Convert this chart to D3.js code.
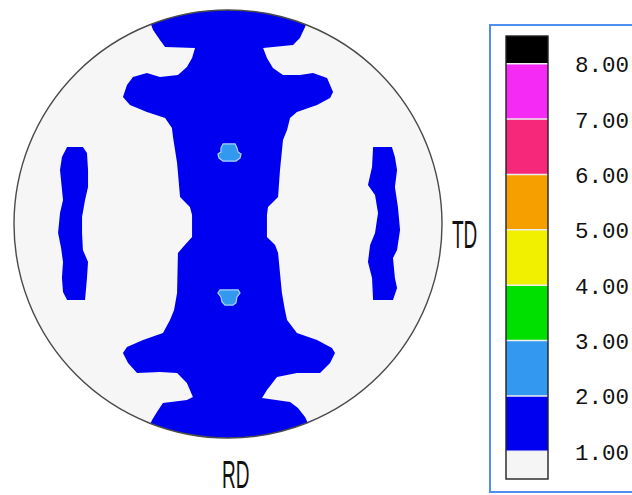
<!DOCTYPE html>
<html>
<head>
<meta charset="utf-8">
<script src="https://cdn.jsdelivr.net/npm/d3@7"></script>
<style>
  html, body { margin: 0; padding: 0; background: #ffffff; }
  svg { display: block; }
</style>
</head>
<body>
<svg id="chart" width="632" height="495"></svg>
<script>
// Pole figure contour regions, in projection units (circle radius = 100,
// x toward TD, y toward RD). Level 1 = intensity >= 1, level 2 = intensity >= 2.
const level1Central = [
  [-41.1,-104.7],[-36.4,-94.4],[-35.0,-90.7],[-31.8,-86.0],[-29.4,-82.7],[-15.4,-82.2],
  [-16.8,-77.6],[-19.2,-73.4],[-23.4,-69.6],[-31.8,-68.7],[-37.9,-70.6],[-44.4,-68.7],
  [-47.2,-65.0],[-49.1,-59.3],[-45.8,-55.6],[-37.9,-52.3],[-29.4,-49.5],[-26.2,-44.9],
  [-25.7,-40.7],[-23.8,-28.5],[-22.4,-12.6],[-17.8,-7.9],[-16.8,-4.2],[-16.8,6.1],
  [-21.0,10.7],[-23.4,13.6],[-23.8,32.2],[-25.2,40.2],[-27.1,44.9],[-30.4,50.9],
  [-39.7,54.2],[-47.2,57.5],[-49.1,60.3],[-46.7,65.0],[-42.5,69.6],[-31.8,69.2],
  [-23.8,69.6],[-19.2,74.3],[-16.4,80.8],[-19.2,82.2],[-30.4,83.6],[-33.2,87.9],
  [-35.5,91.6],[-41.1,104.7],[43.0,104.7],[36.0,90.2],[32.7,86.0],[29.0,83.2],
  [15.9,81.3],[18.2,77.6],[22.9,71.5],[32.2,69.6],[43.0,69.6],[47.7,65.0],
  [50.0,60.3],[48.6,57.9],[41.6,54.2],[32.2,50.9],[27.6,44.9],[26.6,40.2],
  [25.2,32.2],[23.4,13.6],[22.0,9.8],[18.2,6.1],[18.2,-4.2],[18.7,-7.9],
  [23.4,-12.6],[24.3,-25.2],[25.7,-39.3],[27.6,-43.9],[29.0,-49.5],[32.2,-52.3],
  [41.6,-55.6],[47.7,-58.9],[49.1,-61.7],[46.3,-68.2],[39.7,-70.6],[33.6,-69.6],
  [25.7,-69.6],[21.0,-72.9],[18.2,-77.6],[16.4,-82.2],[30.4,-83.6],[33.6,-86.9],
  [36.0,-92.1],[40.7,-104.7]
];
const level1Left = [
  [-75.2,-36.0],[-67.8,-36.0],[-65.9,-33.2],[-65.4,-25.2],[-65.4,-17.3],[-66.8,-11.2],
  [-68.2,-3.3],[-68.2,4.2],[-67.8,12.1],[-65.4,17.8],[-65.9,25.2],[-66.8,35.5],
  [-75.2,35.5],[-77.1,31.8],[-77.6,25.2],[-77.1,17.8],[-78.0,11.2],[-79.4,4.2],
  [-78.5,-5.1],[-77.1,-11.2],[-78.5,-25.2],[-77.6,-31.3]
];
const level1Right = [
  [67.8,-36.0],[76.6,-36.0],[78.0,-31.3],[79.0,-25.2],[78.0,-17.3],[79.4,-7.9],
  [80.4,2.8],[79.0,12.1],[77.1,15.9],[78.0,25.2],[79.0,29.9],[77.1,35.5],
  [67.8,35.5],[67.3,25.2],[65.4,17.8],[66.4,9.8],[68.7,4.2],[70.1,-5.1],
  [68.7,-13.6],[65.4,-18.2],[67.3,-26.6]
];
const level2Upper = [
  [-2.3,-37.4],[3.3,-37.4],[4.2,-35.5],[4.7,-33.6],[6.1,-32.7],[5.6,-30.8],
  [3.7,-29.4],[-2.3,-29.4],[-4.2,-30.8],[-4.7,-32.7],[-3.3,-33.6],[-3.3,-35.5]
];
const level2Lower = [
  [-3.7,30.8],[4.7,30.8],[5.6,32.2],[4.2,34.1],[3.7,36.9],[2.3,37.9],
  [-1.4,37.9],[-2.8,36.4],[-3.3,34.1],[-4.7,32.2]
];

// Colour key: bin boundaries, labels and bin colours (high to low)
const legendValues = [8, 7, 6, 5, 4, 3, 2, 1];
const legendLabels = ["8.00", "7.00", "6.00", "5.00", "4.00", "3.00", "2.00", "1.00"];
const binRanges = [[8, 8.5], [7, 8], [6, 7], [5, 6], [4, 5], [3, 4], [2, 3], [1, 2], [0.5, 1]];
const binColors = ["#000000", "#f52af5", "#f5287a", "#f5a000", "#f0f000", "#00e000", "#3399f0", "#0000f0", "#f5f5f5"];

const axisLabels = { td: "TD", rd: "RD" };

const svg = d3.select("#chart");

// Equal-area projection frame
const cx = 228, cy = 224, R = 214;
const x = d3.scaleLinear().domain([-100, 100]).range([cx - R, cx + R]);
const y = d3.scaleLinear().domain([-100, 100]).range([cy - R, cy + R]);

const defs = svg.append("defs");
defs.append("clipPath").attr("id", "pf-clip")
  .append("circle").attr("cx", x(0)).attr("cy", y(0)).attr("r", x(100) - x(0));

svg.append("circle")
  .attr("cx", x(0)).attr("cy", y(0)).attr("r", x(100) - x(0))
  .attr("fill", "#f6f6f6");

const line = d3.line().x(d => x(d[0])).y(d => y(d[1])).curve(d3.curveLinearClosed);

const pf = svg.append("g").attr("clip-path", "url(#pf-clip)");
pf.selectAll("path.l1")
  .data([level1Central, level1Left, level1Right])
  .join("path")
  .attr("class", "l1")
  .attr("d", line)
  .attr("fill", binColors[7]);

pf.selectAll("path.l2")
  .data([level2Upper, level2Lower])
  .join("path")
  .attr("class", "l2")
  .attr("d", line)
  .attr("fill", "#3399ee")
  .attr("stroke", "#a8d4ff")
  .attr("stroke-width", 1.2);

svg.append("circle")
  .attr("cx", x(0)).attr("cy", y(0)).attr("r", x(100) - x(0))
  .attr("fill", "none")
  .attr("stroke", "#4a4a4a")
  .attr("stroke-width", 1.4);

// Axis labels in a narrow display face
function narrowText(txt, px, py) {
  svg.append("text")
    .attr("transform", `translate(${px},${py}) scale(0.5,1)`)
    .attr("font-family", "Liberation Sans, Arial, sans-serif")
    .attr("font-size", 38)
    .attr("fill", "#111")
    .text(txt);
}
narrowText(axisLabels.td, 452, 248);
narrowText(axisLabels.rd, 222, 488);

// Colour key
svg.append("rect")
  .attr("x", 490).attr("y", 25).attr("width", 160).attr("height", 467)
  .attr("fill", "#ffffff")
  .attr("stroke", "#4f8ff0")
  .attr("stroke-width", 2);

const ly = d3.scaleLinear().domain([8.5, 0.5]).range([36, 479]);
const barX = 506, barW = 42;

svg.selectAll("rect.bin")
  .data(binRanges)
  .join("rect")
  .attr("class", "bin")
  .attr("x", barX)
  .attr("y", d => ly(d[1]))
  .attr("width", barW)
  .attr("height", d => ly(d[0]) - ly(d[1]))
  .attr("fill", (d, i) => binColors[i]);

svg.selectAll("line.sep")
  .data(legendValues)
  .join("line")
  .attr("class", "sep")
  .attr("x1", barX).attr("x2", barX + barW)
  .attr("y1", d => ly(d)).attr("y2", d => ly(d))
  .attr("stroke", "#eeeeee")
  .attr("stroke-width", 1.6);

svg.append("rect")
  .attr("x", barX).attr("y", ly(8.5))
  .attr("width", barW).attr("height", ly(0.5) - ly(8.5))
  .attr("fill", "none")
  .attr("stroke", "#222")
  .attr("stroke-width", 1.4);

svg.selectAll("text.lab")
  .data(legendValues)
  .join("text")
  .attr("class", "lab")
  .attr("x", 575)
  .attr("y", d => ly(d) + 8.5)
  .attr("font-family", "Liberation Mono, Courier New, monospace")
  .attr("font-size", 22.5)
  .attr("fill", "#111")
  .text((d, i) => legendLabels[i]);
</script>
</body>
</html>
